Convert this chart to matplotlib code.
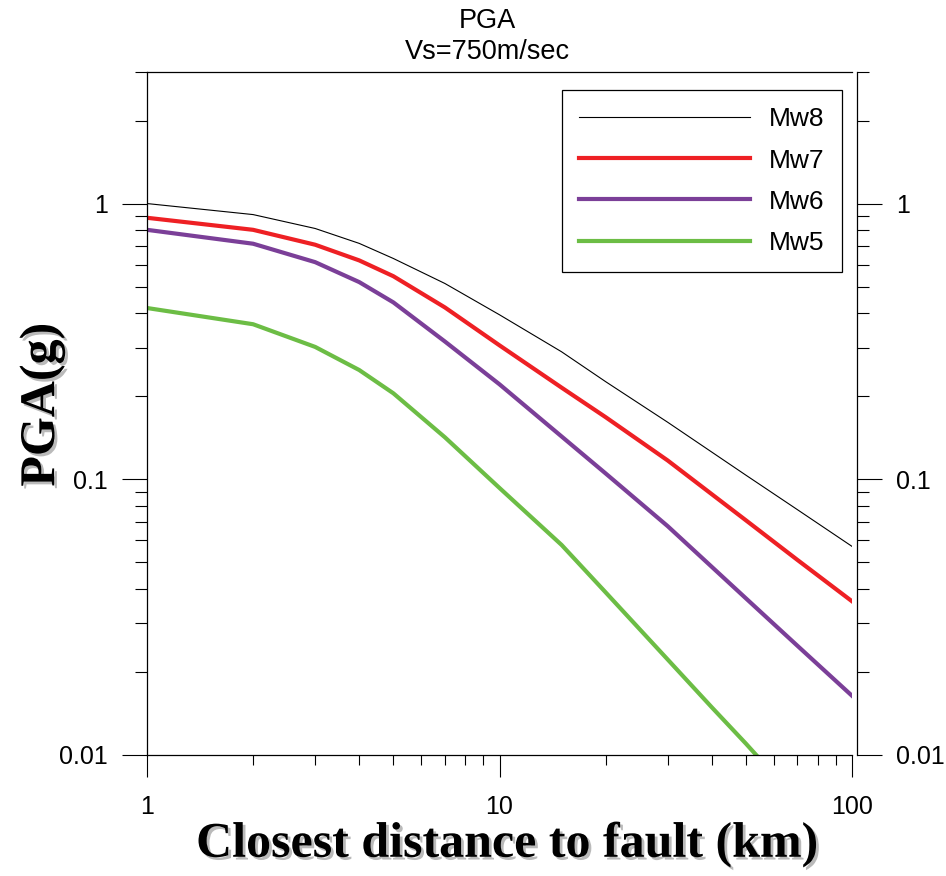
import matplotlib
matplotlib.use('Agg')
import matplotlib.pyplot as plt
import matplotlib.patheffects as pe
from matplotlib.ticker import FixedLocator, FixedFormatter, LogLocator, NullFormatter

plt.rcParams['font.family'] = ['Liberation Sans', 'DejaVu Sans']

# closest distance to fault (km)
dist = [1, 2, 3, 4, 5, 7, 10, 15, 20, 30, 50, 70, 100]
dist_mw5 = [1, 2, 3, 4, 5, 7, 10, 15, 20, 30, 40, 50, 60]

# PGA (g)
pga_mw8 = [1.0, 0.912, 0.812, 0.717, 0.632, 0.513, 0.395, 0.29, 0.226, 0.161, 0.1035, 0.0776, 0.0571]
pga_mw7 = [0.888, 0.803, 0.709, 0.622, 0.545, 0.42, 0.306, 0.215, 0.168, 0.117, 0.071, 0.051, 0.0361]
pga_mw6 = [0.803, 0.715, 0.613, 0.519, 0.438, 0.316, 0.221, 0.143, 0.105, 0.0676, 0.037, 0.0249, 0.0164]
pga_mw5 = [0.418, 0.365, 0.302, 0.249, 0.205, 0.142, 0.093, 0.0578, 0.0389, 0.0222, 0.0149, 0.011, 0.0085]

series = [
    ('Mw8', dist, pga_mw8, 'black', 0.8),
    ('Mw7', dist, pga_mw7, '#ee2024', 3.0),
    ('Mw6', dist, pga_mw6, '#7b3f98', 3.0),
    ('Mw5', dist_mw5, pga_mw5, '#6cbd45', 3.0),
]

x_ticks = [1, 10, 100]
x_tick_labels = ['1', '10', '100']
y_ticks = [0.01, 0.1, 1]
y_tick_labels = ['0.01', '0.1', '1']

fig = plt.figure(figsize=(9.46, 8.76), dpi=100)
ax = fig.add_axes([147 / 946, 121 / 876, 705 / 946, 683 / 876])

for name, d, v, color, lw in series:
    ax.plot(d, v, color=color, lw=lw, label=name, solid_joinstyle='round')

ax.set_xscale('log')
ax.set_yscale('log')
ax.set_xlim(1, 100)
ax.set_ylim(0.01, 3)

ax.xaxis.set_major_locator(FixedLocator(x_ticks))
ax.xaxis.set_major_formatter(FixedFormatter(x_tick_labels))
ax.xaxis.set_minor_locator(LogLocator(base=10, subs=range(2, 10)))
ax.xaxis.set_minor_formatter(NullFormatter())
ax.yaxis.set_major_locator(FixedLocator(y_ticks))
ax.yaxis.set_major_formatter(FixedFormatter(y_tick_labels))
ax.yaxis.set_minor_locator(LogLocator(base=10, subs=range(2, 10)))
ax.yaxis.set_minor_formatter(NullFormatter())

for s in ax.spines.values():
    s.set_linewidth(0.9)
ax.spines['right'].set_position(('outward', 3.6))

ax.tick_params(axis='x', which='major', direction='out', length=16, width=0.8,
               labelsize=18, pad=13, top=False)
ax.tick_params(axis='x', which='minor', direction='out', length=7.5, width=0.8, top=False)
ax.tick_params(axis='y', which='major', direction='out', length=18, width=0.8,
               labelsize=18, pad=10, left=True, right=True, labelright=True)
ax.tick_params(axis='y', which='minor', direction='out', length=8.6, width=0.8,
               left=True, right=True)

shadow = [pe.withSimplePatchShadow(offset=(2, -2), shadow_rgbFace='0.55', alpha=0.6)]
ax.set_xlabel('Closest distance to fault (km)', fontsize=36, fontweight='bold',
              family='Liberation Serif', va='baseline', path_effects=shadow)
ax.xaxis.set_label_coords(0.511, -0.149)
ax.set_ylabel('PGA(g)', fontsize=36, fontweight='bold',
              family='Liberation Serif', va='center', path_effects=shadow)
ax.yaxis.set_label_coords(-0.149, 0.513)

fig.text(487 / 946, 1 - 28 / 876, 'PGA', ha='center', va='baseline', fontsize=19.5)
fig.text(487 / 946, 1 - 59 / 876, 'Vs=750m/sec', ha='center', va='baseline', fontsize=19.5)

leg = ax.legend(loc='upper right', bbox_to_anchor=(695 / 705, 1 - 18 / 683),
                fontsize=19, handlelength=6.5, handletextpad=0.7, labelspacing=0.65,
                borderpad=0.66, borderaxespad=0, fancybox=False, framealpha=1,
                edgecolor='black')
leg.get_frame().set_linewidth(0.9)

fig.savefig('out.png', dpi=100)
